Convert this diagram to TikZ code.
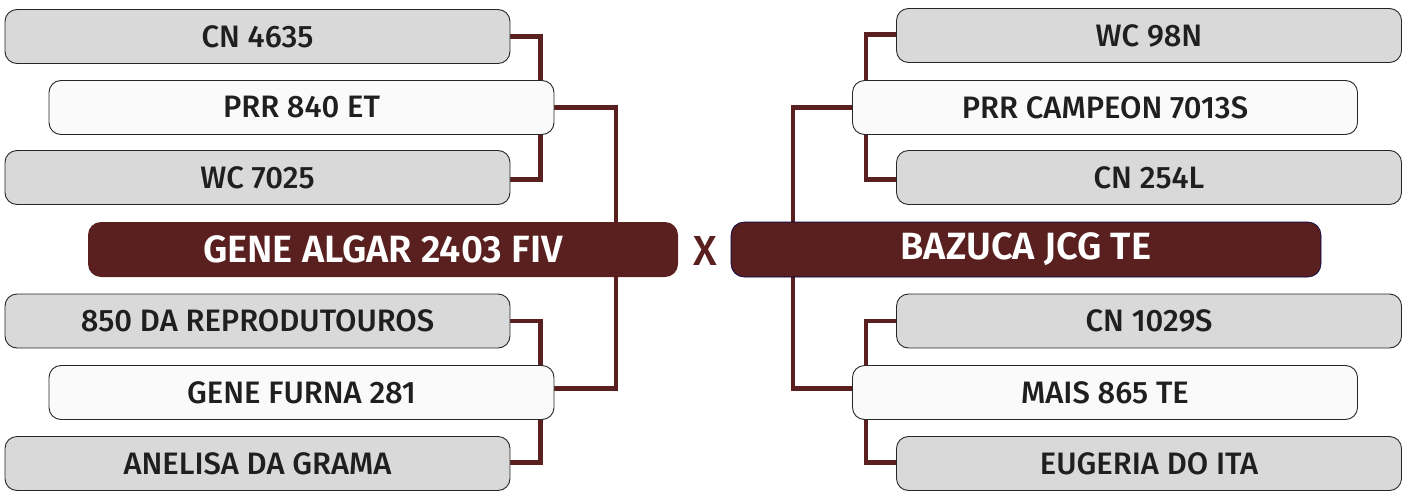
\documentclass[tikz,border=0pt]{standalone}
\usepackage{fontspec}
\usetikzlibrary{backgrounds}
\setmainfont{Fira Sans}[UprightFont=* Medium,BoldFont=* SemiBold]
\definecolor{maroon}{HTML}{5A2020}
\definecolor{boxgrey}{HTML}{D9D9D9}
\definecolor{boxwhite}{HTML}{FAFAFA}
\tikzset{
  greybox/.style={draw=black!85,line width=0.9pt,fill=boxgrey,rounded corners=12pt,
    minimum width=505pt,minimum height=54pt,inner sep=0pt,font=\fontsize{31}{31}\selectfont,text=black!88},
  whitebox/.style={greybox,fill=boxwhite},
  mainbox/.style={fill=maroon,rounded corners=13pt,minimum width=590pt,minimum height=55pt,
    inner sep=0pt,font=\fontsize{38}{38}\selectfont\bfseries,text=white},
  link/.style={draw=maroon,line width=4.3pt},
}
\begin{document}
\begin{tikzpicture}[x=1pt,y=-1pt]
\useasboundingbox (0,0) rectangle (1407,490);
% nodes
\node[greybox] (a1) at (257.5,36.5) {CN 4635};
\node[whitebox] (a2) at (301.5,107.5) {PRR 840 ET};
\node[greybox] (a3) at (257.5,177.5) {WC 7025};
\node[mainbox] (A) at (383,249.5) {GENE ALGAR 2403 FIV};
\node[greybox] (a4) at (257.5,321) {850 DA REPRODUTOUROS};
\node[whitebox] (a5) at (301.5,392.5) {GENE FURNA 281};
\node[greybox] (a6) at (257.5,463.5) {ANELISA DA GRAMA};
\node[font=\fontsize{42}{42}\selectfont,text=maroon] (x) at (705,251) {X};
\node[greybox] (b1) at (1149,35.5) {WC 98N};
\node[whitebox] (b2) at (1105,107.5) {PRR CAMPEON 7013S};
\node[greybox] (b3) at (1149,177.5) {CN 254L};
\node[mainbox,draw=blue!30!black,line width=0.6pt] (B) at (1026,249.5) {BAZUCA JCG TE};
\node[greybox] (b4) at (1149,321) {CN 1029S};
\node[whitebox] (b5) at (1105,392.5) {MAIS 865 TE};
\node[greybox] (b6) at (1149,463.5) {EUGERIA DO ITA};
% connectors behind boxes
\begin{scope}[on background layer]
\draw[link] (a1.east) -- ++(30,0) |- ([yshift=-2pt]a3.east);
\draw[link] (a2.east) -| ([xshift=-62pt]A.north east);
\draw[link] ([xshift=-62pt]A.south east) |- ([yshift=4pt]a5.east);
\draw[link] (a4.east) -- ++(30,0) |- ([yshift=1pt]a6.east);
\draw[link] ([yshift=1pt]b1.west) -- ++(-30,0) |- ([yshift=-2pt]b3.west);
\draw[link] (b2.west) -| ([xshift=62pt]B.north west);
\draw[link] ([xshift=62pt]B.south west) |- ([yshift=4pt]b5.west);
\draw[link] (b4.west) -- ++(-30,0) |- ([yshift=1pt]b6.west);
\end{scope}
\end{tikzpicture}
\end{document}
